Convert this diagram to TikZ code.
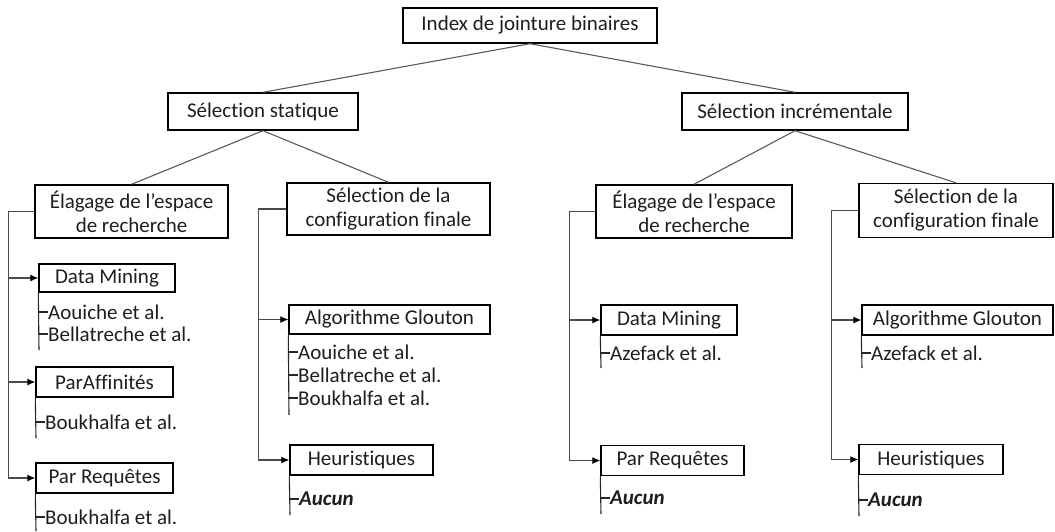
\documentclass[tikz,border=0pt]{standalone}
\usepackage{fontspec}
\setmainfont{Carlito}[Ligatures={NoCommon,NoRare,NoContextual}]
\usetikzlibrary{arrows.meta}
\definecolor{txt}{HTML}{1E1E1E}
\definecolor{diag}{HTML}{5A5A5A}
\definecolor{trk}{HTML}{4A4A4A}
\tikzset{
  box/.style={draw=black, line width=1.4pt, inner sep=0pt, align=center, text=txt,
    font=\fontsize{21}{24}\selectfont},
  item/.style={anchor=west, inner sep=0pt, text=txt, font=\fontsize{21}{24}\selectfont},
  diagline/.style={draw=diag, line width=1.1pt},
  trunk/.style={draw=trk, line width=1.1pt, -{Latex[length=8pt,width=7pt,black]}},
  stem/.style={draw=black!85, line width=1.1pt},
}
\begin{document}
\begin{tikzpicture}[x=1pt,y=-1pt]
\useasboundingbox (0,0) rectangle (1055,531);

% top levels
\node[box, minimum width=254, minimum height=35] (root) at (530,25.5) {Index de jointure binaires};
\node[box, minimum width=190, minimum height=37] (stat) at (263,111.5) {Sélection statique};
\node[box, minimum width=226, minimum height=37] (inc) at (795,111.5) {Sélection incrémentale};

\node[box, minimum width=193, minimum height=53] (elagL) at (131.5,211.5) {Élagage de l’espace\\de recherche};
\node[box, minimum width=203, minimum height=52] (confL) at (388.5,209) {Sélection de la\\configuration finale};
\node[box, minimum width=196, minimum height=53] (elagR) at (694,211.5) {Élagage de l’espace\\de recherche};
\node[box, minimum width=194, minimum height=54] (confR) at (956,210.5) {Sélection de la\\configuration finale};

\draw[diagline] (root.south) -- (stat.north);
\draw[diagline] (root.south) -- (inc.north);
\draw[diagline] (stat.south) -- (elagL.north);
\draw[diagline] (stat.south) -- (confL.north);
\draw[diagline] (inc.south) -- (elagR.north);
\draw[diagline] (inc.south) -- (confR.north);

% third level boxes
\node[box, minimum width=136, minimum height=28] (dmL) at (107,278) {Data Mining};
\node[box, minimum width=137, minimum height=30] (paL) at (104.5,382) {ParAffinités};
\node[box, minimum width=137, minimum height=30] (prL) at (104.5,478) {Par Requêtes};
\node[box, minimum width=201, minimum height=29] (agL) at (389.5,319.5) {Algorithme Glouton};
\node[box, minimum width=143, minimum height=30] (heL) at (361.5,460) {Heuristiques};
\node[box, minimum width=136, minimum height=30] (dmR) at (669,320) {Data Mining};
\node[box, minimum width=143, minimum height=30] (prR) at (672.5,460.5) {Par Requêtes};
\node[box, minimum width=191, minimum height=30] (agR) at (957.5,320) {Algorithme Glouton};
\node[box, minimum width=144, minimum height=30] (heR) at (931,459.5) {Heuristiques};

% trunks
\draw[trunk] (elagL.west) -- ++(-26,0) |- (dmL.west);
\draw[trunk] (elagL.west) -- ++(-26,0) |- (paL.west);
\draw[trunk] (elagL.west) -- ++(-26,0) |- (prL.west);
\draw[trunk] (confL.west) -- ++(-28,0) |- (agL.west);
\draw[trunk] (confL.west) -- ++(-28,0) |- (heL.west);
\draw[trunk] (elagR.west) -- ++(-26,0) |- (dmR.west);
\draw[trunk] (elagR.west) -- ++(-26,0) |- (prR.west);
\draw[trunk] (confR.west) -- ++(-27,0) |- (agR.west);
\draw[trunk] (confR.west) -- ++(-27,0) |- (heR.west);

% items
\node[item] (i1) at (48,312) {Aouiche et al.};
\node[item] (i2) at (48,334) {Bellatreche et al.};
\coordinate (e1) at (39,350);
\draw[stem] (dmL.south west) -- (e1);
\draw[stem] (dmL.south west |- i1.west) -- (i1.west);
\draw[stem] (dmL.south west |- i2.west) -- (i2.west);

\node[item] (i3) at (45,422) {Boukhalfa et al.};
\coordinate (e2) at (36,438);
\draw[stem] (paL.south west) -- (e2);
\draw[stem] (paL.south west |- i3.west) -- (i3.west);

\node[item] (i4) at (45,517) {Boukhalfa et al.};
\coordinate (e3) at (36,531);
\draw[stem] (prL.south west) -- (e3);
\draw[stem] (prL.south west |- i4.west) -- (i4.west);

\node[item] (i5) at (298,352) {Aouiche et al.};
\node[item] (i6) at (298,375) {Bellatreche et al.};
\node[item] (i7) at (298,398) {Boukhalfa et al.};
\coordinate (e4) at (289,415);
\draw[stem] (agL.south west) -- (e4);
\draw[stem] (agL.south west |- i5.west) -- (i5.west);
\draw[stem] (agL.south west |- i6.west) -- (i6.west);
\draw[stem] (agL.south west |- i7.west) -- (i7.west);

\node[item, font=\fontsize{21}{24}\selectfont\bfseries\itshape] (i8) at (299,499) {Aucun};
\coordinate (e5) at (290,515);
\draw[stem] (heL.south west) -- (e5);
\draw[stem] (heL.south west |- i8.west) -- (i8.west);

\node[item] (i9) at (610,353) {Azefack et al.};
\coordinate (e6) at (601,368);
\draw[stem] (dmR.south west) -- (e6);
\draw[stem] (dmR.south west |- i9.west) -- (i9.west);

\node[item, font=\fontsize{21}{24}\selectfont\bfseries\itshape] (i10) at (610,498) {Aucun};
\coordinate (e7) at (601,514);
\draw[stem] (prR.south west) -- (e7);
\draw[stem] (prR.south west |- i10.west) -- (i10.west);

\node[item] (i11) at (871,353) {Azefack et al.};
\coordinate (e8) at (862,368);
\draw[stem] (agR.south west) -- (e8);
\draw[stem] (agR.south west |- i11.west) -- (i11.west);

\node[item, font=\fontsize{21}{24}\selectfont\bfseries\itshape] (i12) at (868,500) {Aucun};
\coordinate (e9) at (859,516);
\draw[stem] (heR.south west) -- (e9);
\draw[stem] (heR.south west |- i12.west) -- (i12.west);
\end{tikzpicture}
\end{document}
